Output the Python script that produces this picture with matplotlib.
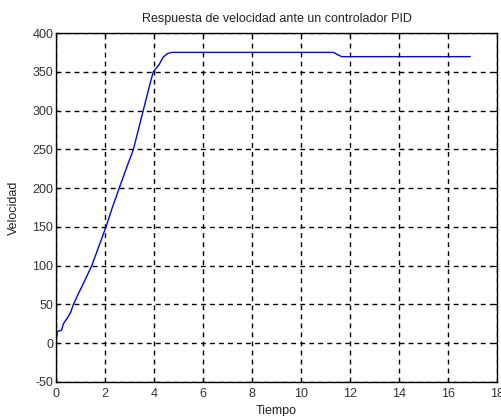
import numpy as np
import matplotlib
matplotlib.use("Agg")
import matplotlib.pyplot as plt

# velocity response
tiempo = [0.0, 0.05, 0.15, 0.23, 0.3, 0.45, 0.6, 0.71, 0.9, 1.1, 1.46,
          1.75, 2.04, 2.3, 2.58, 2.9, 3.16, 3.4, 3.56, 3.8, 3.97,
          4.1, 4.22, 4.38, 4.55, 4.72, 6.0, 8.0, 10.0, 11.32, 11.5,
          11.66, 13.0, 15.0, 16.9]
velocidad = [0.0, 15.0, 16.0, 17.0, 25.0, 32.0, 40.0, 50.0, 63.0, 76.0, 100.0,
             125.0, 150.0, 175.0, 200.0, 228.0, 250.0, 280.0, 300.0, 330.0, 350.0,
             355.0, 360.0, 369.0, 373.5, 375.0, 375.0, 375.0, 375.0, 375.0, 372.0,
             369.5, 369.5, 369.5, 369.5]

xticks = np.arange(0, 19, 2)
yticks = np.arange(-50, 401, 50)

plt.rcParams['font.family'] = ['Liberation Sans', 'DejaVu Sans']
plt.rcParams['axes.unicode_minus'] = False

fig = plt.figure(figsize=(5.01, 4.16), dpi=100)
ax = fig.add_axes([56 / 501, 1 - 382 / 416, 441 / 501, 349 / 416])

ax.plot(tiempo, velocidad, color='#0000ff', linewidth=1.0)

ax.set_xlim(0, 18)
ax.set_ylim(-50, 400)
ax.set_xticks(xticks)
ax.set_yticks(yticks)
ax.grid(True, color='black', linestyle=(0, (3.5, 3)), linewidth=1.0)
ax.tick_params(direction='in', length=3, labelsize=9, colors='black',
               labelcolor='#333333', top=True, right=True)
ax.tick_params(axis='x', pad=4)
ax.tick_params(axis='y', pad=2)
for s in ax.spines.values():
    s.set_linewidth(1.0)

ax.set_title('Respuesta de velocidad ante un controlador PID', fontsize=9,
             color='#222222', pad=8)
ax.set_xlabel('Tiempo', fontsize=9, color='#222222', labelpad=4)
ax.set_ylabel('Velocidad', fontsize=9, color='#222222', labelpad=9)

fig.savefig('out.png', dpi=100)
